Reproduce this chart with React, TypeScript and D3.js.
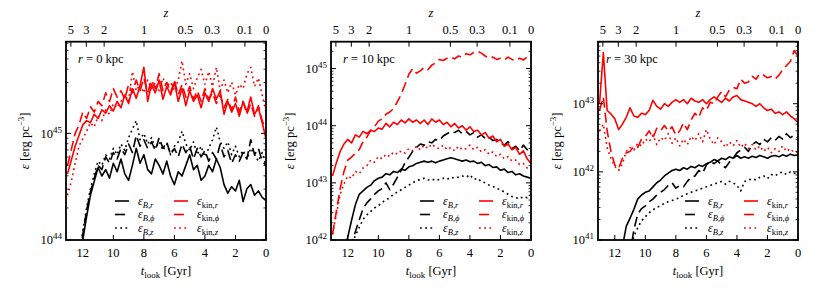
import * as d3 from "d3";

// lookback time grid [Gyr]
const tLook = [
  13, 12.75, 12.5, 12.25, 12, 11.75, 11.5, 11.25, 11, 10.75, 10.5, 10.25, 10,
  9.75, 9.5, 9.25, 9, 8.75, 8.5, 8.25, 8, 7.75, 7.5, 7.25, 7, 6.75, 6.5, 6.25, 6,
  5.75, 5.5, 5.25, 5, 4.75, 4.5, 4.25, 4, 3.75, 3.5, 3.25, 3, 2.75, 2.5, 2.25, 2,
  1.75, 1.5, 1.25, 1, 0.75, 0.5, 0.25, 0,
];

// log10 energy densities, r = 0 kpc
const r0BR = [43.5, 43.5, 43.6, 43.8, 44.0, 44.22, 44.42, 44.55, 44.68, 44.6, 44.66, 44.58, 44.72, 44.64, 44.76, 44.62, 44.56, 44.7, 44.86, 44.72, 44.8, 44.66, 44.62, 44.76, 44.7, 44.62, 44.74, 44.6, 44.52, 44.64, 44.6, 44.7, 44.8, 44.66, 44.7, 44.56, 44.6, 44.7, 44.64, 44.76, 44.68, 44.52, 44.44, 44.5, 44.46, 44.56, 44.36, 44.48, 44.52, 44.42, 44.46, 44.4, 44.37];
const r0BPhi = [43.5, 43.5, 43.6, 43.82, 44.05, 44.28, 44.45, 44.58, 44.7, 44.66, 44.78, 44.72, 44.82, 44.76, 44.86, 44.8, 44.9, 44.82, 44.98, 44.88, 44.94, 44.86, 44.92, 44.84, 44.96, 44.86, 44.92, 44.8, 44.86, 44.78, 44.9, 44.82, 44.88, 44.76, 44.86, 44.78, 44.84, 44.74, 44.82, 44.76, 44.9, 44.78, 44.84, 44.72, 44.8, 44.74, 44.82, 44.76, 44.94, 44.8, 44.86, 44.74, 44.7];
const r0BZ = [43.5, 43.5, 43.6, 43.85, 44.08, 44.3, 44.48, 44.62, 44.74, 44.7, 44.8, 44.76, 44.86, 44.8, 44.9, 44.84, 44.96, 45.04, 45.12, 44.94, 45.0, 44.9, 44.96, 44.86, 44.92, 44.84, 44.9, 44.8, 44.88, 44.92, 45.02, 44.9, 44.84, 44.92, 44.8, 44.88, 44.78, 44.86, 44.94, 45.06, 44.92, 44.86, 44.92, 44.8, 44.88, 44.78, 44.84, 44.76, 44.86, 44.8, 44.74, 44.82, 44.7];
const r0KinR = [44.62, 44.75, 44.88, 44.98, 45.08, 45.12, 45.1, 45.18, 45.14, 45.22, 45.19, 45.26, 45.21, 45.3, 45.24, 45.36, 45.28, 45.42, 45.33, 45.45, 45.62, 45.3, 45.46, 45.38, 45.5, 45.32, 45.44, 45.36, 45.48, 45.3, 45.42, 45.26, 45.4, 45.3, 45.36, 45.24, 45.38, 45.3, 45.42, 45.32, 45.4, 45.18, 45.3, 45.2, 45.28, 45.16, 45.3, 45.2, 45.34, 45.18, 45.24, 45.1, 44.95];
const r0KinPhi = [44.7, 44.85, 45.0, 45.08, 45.2, 45.14, 45.25, 45.2, 45.3, 45.26, 45.38, 45.3, 45.42, 45.34, 45.4, 45.32, 45.46, 45.38, 45.5, 45.4, 45.52, 45.38, 45.5, 45.42, 45.56, 45.4, 45.48, 45.38, 45.5, 45.36, 45.46, 45.34, 45.44, 45.32, 45.4, 45.3, 45.42, 45.32, 45.38, 45.28, 45.36, 45.24, 45.32, 45.22, 45.34, 45.2, 45.3, 45.18, 45.28, 45.16, 45.26, 45.12, 45.02];
const r0KinZ = [44.42, 44.55, 44.72, 44.88, 44.95, 45.02, 45.1, 45.06, 45.16, 45.12, 45.22, 45.18, 45.28, 45.24, 45.3, 45.36, 45.3, 45.58, 45.4, 45.46, 45.38, 45.5, 45.42, 45.48, 45.4, 45.52, 45.44, 45.48, 45.4, 45.5, 45.68, 45.46, 45.56, 45.42, 45.52, 45.6, 45.46, 45.58, 45.44, 45.62, 45.4, 45.5, 45.38, 45.48, 45.36, 45.46, 45.42, 45.56, 45.62, 45.44, 45.52, 45.36, 45.2];

// r = 10 kpc
const r10BR = [41.5, 41.5, 41.6, 41.8, 42.05, 42.35, 42.62, 42.8, 42.86, 42.92, 42.96, 43.04, 43.08, 43.1, 43.16, 43.14, 43.2, 43.18, 43.24, 43.22, 43.28, 43.3, 43.34, 43.36, 43.38, 43.36, 43.38, 43.35, 43.38, 43.4, 43.42, 43.44, 43.42, 43.4, 43.38, 43.4, 43.37, 43.38, 43.34, 43.36, 43.3, 43.32, 43.27, 43.28, 43.22, 43.24, 43.18, 43.2, 43.14, 43.16, 43.12, 43.1, 43.08];
const r10BPhi = [41.5, 41.5, 41.5, 41.6, 41.75, 41.95, 42.15, 42.35, 42.55, 42.65, 42.72, 42.8, 42.86, 42.9, 43.0, 42.88, 42.98, 43.1, 43.22, 43.35, 43.45, 43.55, 43.62, 43.68, 43.66, 43.72, 43.7, 43.76, 43.74, 43.82, 43.86, 43.9, 43.88, 43.92, 43.86, 43.9, 43.84, 43.88, 43.8, 43.84, 43.78, 43.8, 43.74, 43.76, 43.7, 43.66, 43.72, 43.6, 43.64, 43.56, 43.66, 43.58, 43.62];
const r10BZ = [41.5, 41.5, 41.5, 41.6, 41.75, 41.92, 42.08, 42.22, 42.36, 42.44, 42.5, 42.56, 42.6, 42.66, 42.7, 42.74, 42.8, 42.84, 42.88, 42.92, 42.96, 43.0, 43.04, 43.06, 43.08, 43.05, 43.07, 43.04, 43.06, 43.08, 43.06, 43.1, 43.08, 43.1, 43.12, 43.1, 43.14, 43.06, 43.08, 43.02, 43.0, 42.96, 42.94, 42.9, 42.88, 42.84, 42.8, 42.76, 42.74, 42.72, 42.76, 42.74, 42.8];
const r10KinR = [43.12, 43.35, 43.55, 43.68, 43.76, 43.7, 43.84, 43.8, 43.9, 43.86, 43.92, 43.9, 43.96, 43.94, 44.04, 43.98, 44.06, 44.02, 44.1, 44.05, 44.12, 44.06, 44.1, 44.04, 44.1, 44.02, 44.12, 44.06, 44.1, 44.02, 44.06, 43.98, 44.04, 43.96, 44.0, 43.92, 43.98, 43.9, 43.92, 43.84, 43.88, 43.78, 43.82, 43.72, 43.76, 43.64, 43.68, 43.58, 43.62, 43.5, 43.56, 43.42, 43.34];
const r10KinPhi = [42.1, 42.5, 42.9, 43.2, 43.4, 43.45, 43.52, 43.58, 43.72, 43.8, 43.92, 43.98, 44.08, 44.12, 44.2, 44.24, 44.3, 44.42, 44.55, 44.72, 44.9, 45.0, 44.92, 44.96, 45.02, 44.98, 45.06, 45.1, 45.16, 45.14, 45.18, 45.2, 45.17, 45.22, 45.2, 45.26, 45.24, 45.28, 45.3, 45.27, 45.22, 45.18, 45.2, 45.16, 45.18, 45.15, 45.2, 45.16, 45.14, 45.18, 45.15, 45.2, 45.18];
const r10KinZ = [42.1, 42.45, 42.8, 42.98, 43.12, 43.08, 43.2, 43.16, 43.26, 43.3, 43.4, 43.36, 43.46, 43.42, 43.5, 43.46, 43.54, 43.5, 43.56, 43.52, 43.6, 43.56, 43.64, 43.58, 43.66, 43.6, 43.68, 43.62, 43.6, 43.66, 43.58, 43.62, 43.56, 43.64, 43.58, 43.6, 43.66, 43.58, 43.62, 43.54, 43.58, 43.5, 43.54, 43.46, 43.5, 43.42, 43.46, 43.38, 43.4, 43.32, 43.34, 43.26, 43.24];

// r = 30 kpc
const r30BR = [40.5, 40.5, 40.5, 40.5, 40.5, 40.5, 40.9, 41.2, 41.32, 41.45, 41.6, 41.66, 41.7, 41.72, 41.78, 41.84, 41.88, 41.94, 41.98, 42.02, 42.04, 42.02, 42.06, 42.04, 42.08, 42.06, 42.1, 42.08, 42.12, 42.14, 42.18, 42.16, 42.2, 42.18, 42.22, 42.2, 42.24, 42.2, 42.22, 42.2, 42.23, 42.21, 42.24, 42.22, 42.2, 42.23, 42.24, 42.22, 42.25, 42.23, 42.26, 42.24, 42.25];
const r30BPhi = [40.5, 40.5, 40.5, 40.5, 40.5, 40.5, 40.5, 40.5, 40.8, 41.15, 41.38, 41.46, 41.5, 41.56, 41.6, 41.66, 41.7, 41.74, 41.8, 41.84, 41.76, 41.8, 41.78, 41.86, 41.92, 41.94, 42.02, 41.98, 42.1, 42.16, 42.12, 42.16, 42.1, 42.06, 42.14, 42.2, 42.28, 42.32, 42.36, 42.3, 42.4, 42.44, 42.4, 42.48, 42.44, 42.5, 42.46, 42.52, 42.48, 42.56, 42.5, 42.54, 42.5];
const r30BZ = [40.5, 40.5, 40.5, 40.5, 40.5, 40.5, 40.5, 40.5, 40.85, 41.05, 41.18, 41.28, 41.34, 41.4, 41.44, 41.48, 41.5, 41.54, 41.56, 41.58, 41.6, 41.62, 41.66, 41.68, 41.7, 41.72, 41.74, 41.76, 41.78, 41.8, 41.82, 41.84, 41.86, 41.82, 41.86, 41.84, 41.8, 41.72, 41.86, 41.88, 41.9, 41.88, 41.92, 41.94, 41.9, 41.96, 41.94, 41.98, 42.0, 41.96, 42.0, 41.98, 41.96];
const r30KinR = [43.0, 43.75, 42.9, 42.85, 42.78, 42.62, 42.7, 42.8, 42.94, 42.82, 42.8, 42.86, 42.84, 42.9, 43.05, 42.96, 42.92, 43.0, 42.96, 43.02, 43.06, 43.02, 43.06, 43.0, 43.08, 43.04, 43.02, 43.06, 43.0, 43.06, 43.1, 43.06, 43.02, 43.08, 43.04, 43.1, 43.12, 43.06, 43.04, 43.02, 43.0, 42.96, 43.0, 42.94, 42.9, 42.92, 42.86, 42.88, 42.84, 42.88, 42.82, 42.78, 42.72];
const r30KinPhi = [42.9, 43.1, 42.6, 42.3, 42.1, 42.05, 42.2, 42.28, 42.3, 42.38, 42.36, 42.48, 42.52, 42.6, 42.5, 42.64, 42.6, 42.68, 42.6, 42.66, 42.54, 42.6, 42.72, 42.62, 42.76, 42.86, 42.8, 42.94, 42.9, 43.02, 43.0, 43.1, 43.18, 43.1, 43.2, 43.24, 43.22, 43.36, 43.3, 43.32, 43.4, 43.36, 43.44, 43.42, 43.38, 43.4, 43.36, 43.42, 43.5, 43.56, 43.62, 43.78, 43.7];
const r30KinZ = [42.6, 42.7, 42.35, 42.2, 42.08, 42.02, 42.12, 42.3, 42.36, 42.32, 42.42, 42.38, 42.48, 42.44, 42.54, 42.4, 42.5, 42.46, 42.56, 42.42, 42.5, 42.38, 42.48, 42.4, 42.52, 42.46, 42.56, 42.44, 42.62, 42.48, 42.4, 42.5, 42.44, 42.36, 42.44, 42.38, 42.46, 42.36, 42.42, 42.34, 42.4, 42.32, 42.38, 42.3, 42.36, 42.28, 42.34, 42.3, 42.38, 42.3, 42.34, 42.28, 42.3];

// ticks
const tTicks = [12, 10, 8, 6, 4, 2, 0];
const zTickLabels = ["5", "3", "2", "1", "0.5", "0.3", "0.1", "0"];
const zTickLookback = [12.78, 11.77, 10.6, 7.99, 5.28, 3.53, 1.38, 0];

const radii = ["0", "10", "30"];

const FONT = "Liberation Serif, Times New Roman, DejaVu Serif, serif";
const TOP = 41.7;
const BOTTOM = 240;
const W = 200;

const styles = [
  { color: "#000", dash: null, sym: "B", comp: "r" },
  { color: "#000", dash: "10,5", sym: "B", comp: "ϕ" },
  { color: "#000", dash: "1.8,3.4", sym: "B", comp: "z" },
  { color: "#ff0000", dash: null, sym: "kin", comp: "r" },
  { color: "#ff0000", dash: "10,5", sym: "kin", comp: "ϕ" },
  { color: "#ff0000", dash: "1.8,3.4", sym: "kin", comp: "z" },
];

function Panel({ idx, left, yLo, yHi, series, legendX, labelDx }) {
  const x = d3.scaleLinear().domain([13.1, 0]).range([left, left + W]);
  const y = d3.scaleLog().domain([Math.pow(10, yLo), Math.pow(10, yHi)]).range([BOTTOM, TOP]);
  const line = d3
    .line<number>()
    .x((_, i) => x(tLook[i]))
    .y((v) => y(Math.pow(10, v)));

  const majors: number[] = [];
  const minors: number[] = [];
  for (let e = Math.floor(yLo); e <= Math.ceil(yHi); e++) {
    if (e >= yLo - 1e-9 && e <= yHi) majors.push(e);
    for (let m = 2; m <= 9; m++) {
      const lv = e + Math.log10(m);
      if (lv > yLo && lv < yHi) minors.push(lv);
    }
  }
  const cx = left + W / 2;
  const clipId = `clip${idx}`;
  const rowY = [201, 214.5, 228];

  return (
    <g>
      <defs>
        <clipPath id={clipId}>
          <rect x={left} y={TOP} width={W} height={BOTTOM - TOP} />
        </clipPath>
      </defs>
      <g clipPath={`url(#${clipId})`} fill="none" strokeWidth={1.6} strokeLinejoin="round">
        {series.map((vals, i) => (
          <path
            key={i}
            d={line(vals) || ""}
            stroke={styles[i].color}
            strokeDasharray={styles[i].dash || undefined}
          />
        ))}
      </g>
      {/* frame */}
      <rect x={left} y={TOP} width={W} height={BOTTOM - TOP} fill="none" stroke="#000" strokeWidth={1.8} />
      {/* y ticks */}
      {majors.map((e) => (
        <g key={`M${e}`}>
          <line x1={left} x2={left + 5} y1={y(Math.pow(10, e))} y2={y(Math.pow(10, e))} stroke="#000" strokeWidth={1} />
          <line x1={left + W} x2={left + W - 5} y1={y(Math.pow(10, e))} y2={y(Math.pow(10, e))} stroke="#000" strokeWidth={1} />
          <text x={left - 4} y={y(Math.pow(10, e))} dy="0.35em" textAnchor="end" fontSize={12.5}>
            10<tspan fontSize={9} dy={-5}>{e}</tspan>
          </text>
        </g>
      ))}
      {minors.map((lv, i) => (
        <g key={`m${i}`}>
          <line x1={left} x2={left + 2.5} y1={y(Math.pow(10, lv))} y2={y(Math.pow(10, lv))} stroke="#000" strokeWidth={0.8} />
          <line x1={left + W} x2={left + W - 2.5} y1={y(Math.pow(10, lv))} y2={y(Math.pow(10, lv))} stroke="#000" strokeWidth={0.8} />
        </g>
      ))}
      {/* bottom ticks */}
      {tTicks.map((t) => (
        <g key={`t${t}`}>
          <line x1={x(t)} x2={x(t)} y1={BOTTOM} y2={BOTTOM - 5} stroke="#000" strokeWidth={1} />
          <text x={x(t)} y={257} textAnchor="middle" fontSize={12.5}>{t}</text>
        </g>
      ))}
      {/* top z ticks */}
      {zTickLabels.map((lab, i) => (
        <g key={`z${lab}`}>
          <line x1={x(zTickLookback[i])} x2={x(zTickLookback[i])} y1={TOP} y2={TOP + 5} stroke="#000" strokeWidth={1} />
          <text x={x(zTickLookback[i])} y={33.5} textAnchor="middle" fontSize={12.5}>{lab}</text>
        </g>
      ))}
      <text x={cx} y={17} textAnchor="middle" fontSize={12.5} fontStyle="italic">z</text>
      <text x={cx} y={275} textAnchor="middle" fontSize={12.5}>
        <tspan fontStyle="italic">t</tspan>
        <tspan fontSize={9} dy={3}>look</tspan>
        <tspan dy={-3}> [Gyr]</tspan>
      </text>
      <text transform={`translate(${left - 37},${(TOP + BOTTOM) / 2}) rotate(-90)`} textAnchor="middle" fontSize={12.5}>
        <tspan fontStyle="italic">ε</tspan> [erg pc<tspan fontSize={9} dy={-5}>−3</tspan><tspan dy={5}>]</tspan>
      </text>
      <text x={left + labelDx} y={63} fontSize={12.5}>
        <tspan fontStyle="italic">r</tspan> = {radii[idx]} kpc
      </text>
      {/* legend */}
      {styles.map((s, i) => {
        const col = Math.floor(i / 3);
        const row = i % 3;
        const hx = left + legendX + col * 59;
        const hy = rowY[row];
        return (
          <g key={`lg${i}`}>
            <line x1={hx} x2={hx + 14} y1={hy} y2={hy} stroke={s.color} strokeWidth={1.6} strokeDasharray={s.dash || undefined} />
            <text x={hx + 23} y={hy} dy="0.3em" fontSize={12}>
              <tspan fontStyle="italic">ε</tspan>
              <tspan fontSize={8.5} dy={3}>
                {s.sym === "B" ? <tspan fontStyle="italic">B</tspan> : "kin"},<tspan fontStyle="italic">{s.comp}</tspan>
              </tspan>
            </text>
          </g>
        );
      })}
    </g>
  );
}

export default function App() {
  const panels = [
    { left: 66, yLo: 44, yHi: 45.86, series: [r0BR, r0BPhi, r0BZ, r0KinR, r0KinPhi, r0KinZ], legendX: 49, labelDx: 12 },
    { left: 331, yLo: 42, yHi: 45.47, series: [r10BR, r10BPhi, r10BZ, r10KinR, r10KinPhi, r10KinZ], legendX: 89, labelDx: 12 },
    { left: 598, yLo: 41, yHi: 43.91, series: [r30BR, r30BPhi, r30BZ, r30KinR, r30KinPhi, r30KinZ], legendX: 87, labelDx: 8 },
  ];
  return (
    <svg
      width={830}
      height={291}
      fontFamily={FONT}
      style={{ position: "absolute", left: 0, top: 0, background: "#fff", fontFamily: FONT }}
    >
      {panels.map((p, i) => (
        <Panel key={i} idx={i} {...p} />
      ))}
    </svg>
  );
}
